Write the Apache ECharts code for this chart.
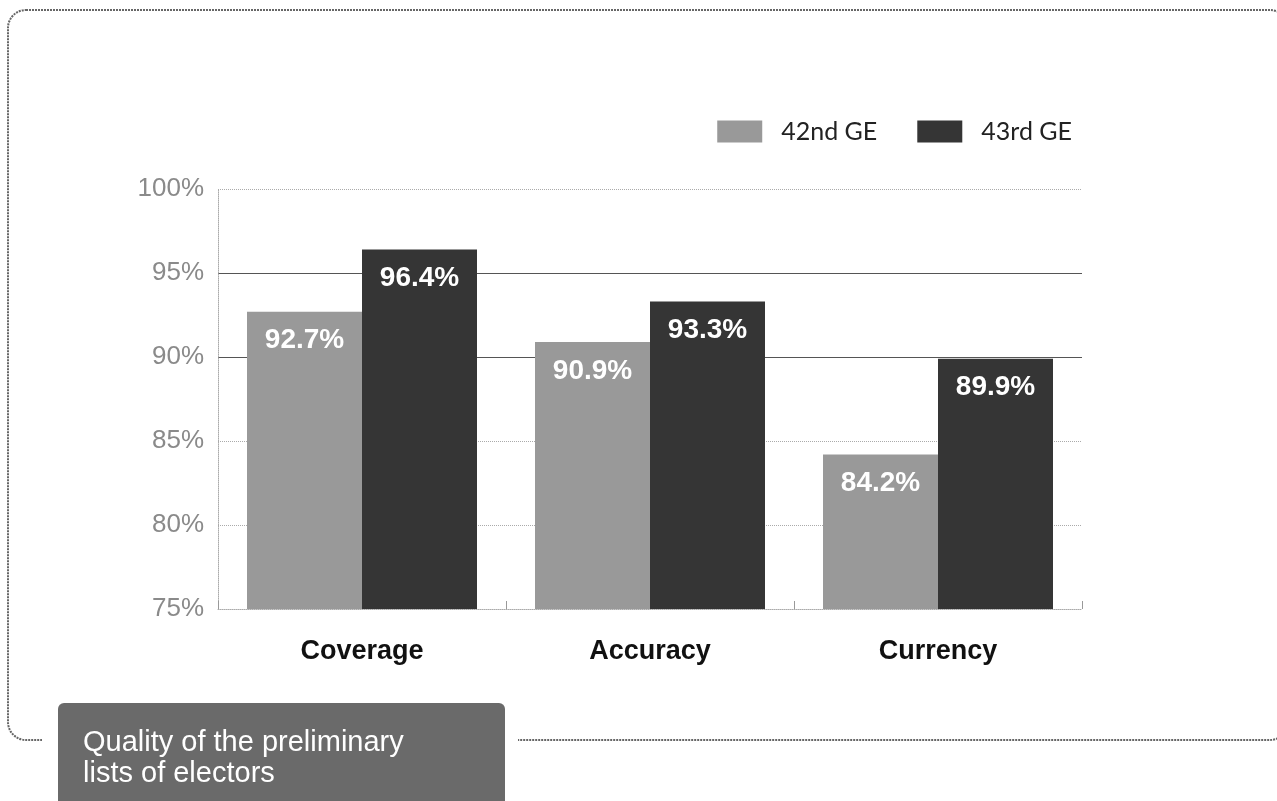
<!DOCTYPE html>
<html>
<head>
<meta charset="utf-8">
<script src="https://cdn.jsdelivr.net/npm/echarts@6/dist/echarts.min.js"></script>
<style>
  html, body { margin: 0; padding: 0; background: #fff; }
  #chart { width: 1277px; height: 801px; }
</style>
</head>
<body>
<div id="chart"></div>
<script>
// Quality indicators of the preliminary lists of electors
const categories = ['Coverage', 'Accuracy', 'Currency'];
const ge42 = [92.7, 90.9, 84.2];
const ge43 = [96.4, 93.3, 89.9];
const seriesNames = ['42nd GE', '43rd GE'];
const yTicks = [75, 80, 85, 90, 95, 100];
const strongLines = [90, 95];
const titleLines = ['Quality of the preliminary', 'lists of electors'];

const chart = echarts.init(document.getElementById('chart'));

const sans = '"Liberation Sans", Arial, sans-serif';

const barLabel = {
  show: true,
  position: 'insideTop',
  distance: 15,
  color: '#fff',
  fontFamily: sans,
  fontWeight: 'bold',
  fontSize: 28,
  formatter: p => p.value.toFixed(1) + '%'
};

const yBase = {
  type: 'value',
  min: yTicks[0],
  max: yTicks[yTicks.length - 1],
  interval: yTicks[1] - yTicks[0]
};

chart.setOption({
  animation: false,
  legend: {
    data: seriesNames,
    icon: 'rect',
    right: 200,
    top: 114,
    itemWidth: 45,
    itemHeight: 22,
    itemGap: 40,
    textStyle: { fontFamily: 'Lato, sans-serif', fontSize: 25, color: '#222', padding: [0, 0, 0, 14] }
  },
  grid: { left: 218, right: 195, top: 189, bottom: 192 },
  xAxis: {
    type: 'category',
    data: categories,
    axisLine: { lineStyle: { color: '#aaa', type: 'dotted', width: 1 } },
    axisTick: { show: true, inside: true, length: 8, lineStyle: { color: '#999' } },
    axisLabel: {
      margin: 29,
      color: '#111',
      fontFamily: sans,
      fontWeight: 'bold',
      fontSize: 27
    }
  },
  yAxis: [
    Object.assign({}, yBase, {
      axisLine: { show: true, lineStyle: { color: '#aaa', type: 'dotted' } },
      axisTick: { show: false },
      axisLabel: {
        formatter: '{value}%',
        margin: 14,
        color: '#8a8a8a',
        fontFamily: sans,
        fontSize: 26
      },
      splitLine: { show: true, lineStyle: { color: '#aaa', type: 'dotted', width: 1 } }
    }),
    // overlay axis: solid guide lines at 90% and 95%
    Object.assign({}, yBase, {
      position: 'left',
      axisLine: { show: false },
      axisTick: { show: false },
      axisLabel: { show: false },
      splitLine: {
        show: true,
        lineStyle: {
          type: 'solid',
          width: 1,
          color: yTicks.map(v => strongLines.includes(v) ? '#555' : 'rgba(0,0,0,0)')
        }
      }
    })
  ],
  series: [
    {
      name: seriesNames[0],
      type: 'bar',
      data: ge42,
      barWidth: 115,
      barGap: '0%',
      itemStyle: { color: '#999999' },
      label: barLabel
    },
    {
      name: seriesNames[1],
      type: 'bar',
      data: ge43,
      barWidth: 115,
      itemStyle: { color: '#353535' },
      label: barLabel
    }
  ],
  graphic: [
    {
      type: 'rect',
      silent: true,
      z: -10,
      shape: { x: 8, y: 10, width: 1280, height: 730, r: 18 },
      style: { fill: 'none', stroke: '#666', lineWidth: 2, lineDash: [2, 1] }
    },
    {
      type: 'rect',
      silent: true,
      z: -9,
      shape: { x: 42, y: 730, width: 476, height: 20 },
      style: { fill: '#fff' }
    },
    {
      type: 'rect',
      silent: true,
      z: -8,
      shape: { x: 58, y: 703, width: 447, height: 110, r: [6, 6, 0, 0] },
      style: { fill: '#6a6a6a' }
    },
    {
      type: 'text',
      silent: true,
      z: -7,
      left: 83,
      top: 727,
      style: {
        text: titleLines.join('\n'),
        fill: '#fff',
        font: '29px "Liberation Sans", Arial, sans-serif',
        lineHeight: 31
      }
    }
  ]
});
</script>
</body>
</html>
